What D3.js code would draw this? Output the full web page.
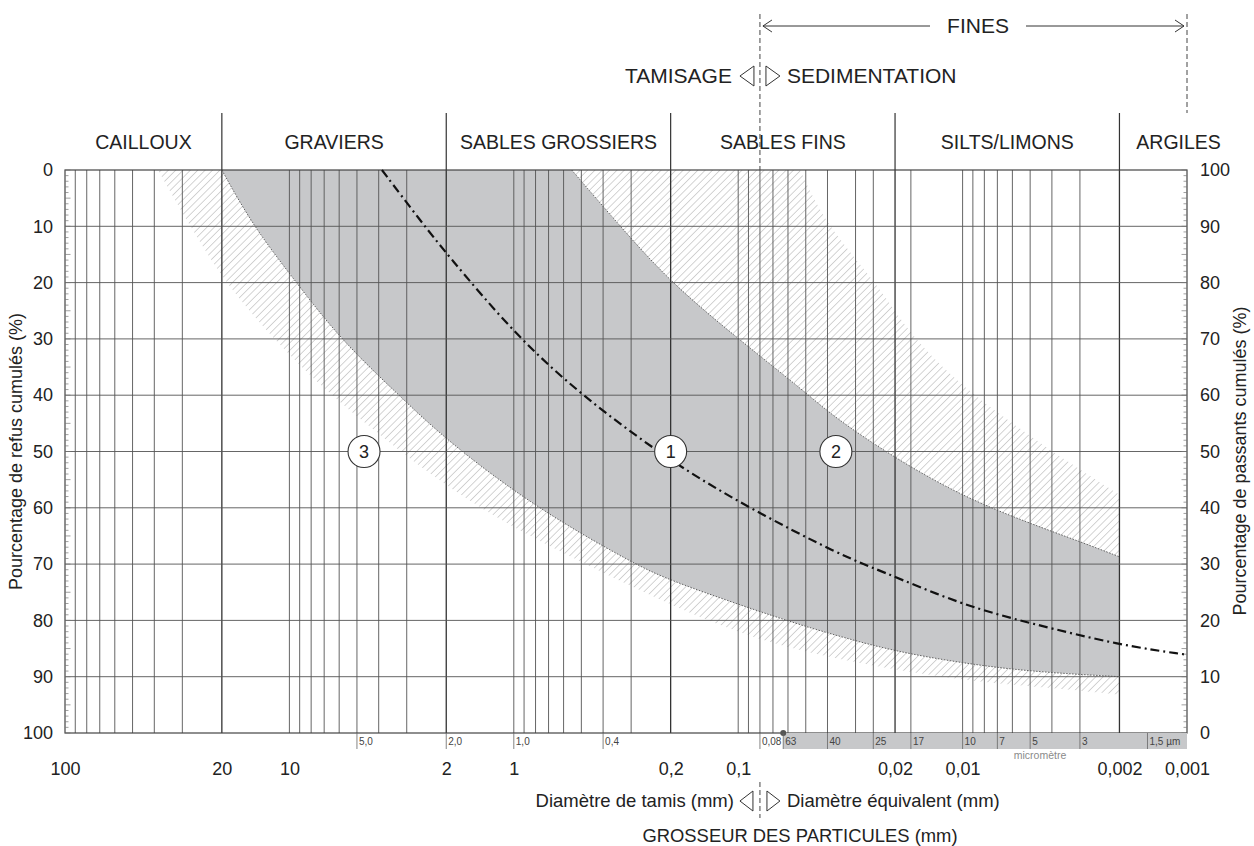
<!DOCTYPE html>
<html>
<head>
<meta charset="utf-8">
<script src="https://cdn.jsdelivr.net/npm/d3@7"></script>
<style>
  body { margin: 0; background: #fff; }
  svg { font-family: "Liberation Sans", Arial, sans-serif; }
</style>
</head>
<body>
<script>
// zones across the top, and the sizes (mm) that separate them
var zoneNames = ["CAILLOUX", "GRAVIERS", "SABLES GROSSIERS", "SABLES FINS", "SILTS/LIMONS", "ARGILES"];
var zoneBounds = [20, 2, 0.2, 0.02, 0.002];
var zoneLabelAt = [44.7, 6.32, 0.632, 0.0632, 0.00632, 0.00109];

// tick labels
var mainTicks = [100, 20, 10, 2, 1, 0.2, 0.1, 0.02, 0.01, 0.002, 0.001];
var sieveTicks = [5, 2, 1, 0.4, 0.08];
var sieveLabels = ["5,0", "2,0", "1,0", "0,4", "0,08"];
var micronTicks = [63, 40, 25, 17, 10, 7, 5, 3, 1.5];
var micronLabels = ["63", "40", "25", "17", "10", "7", "5", "3", "1,5 µm"];
var extraGrid = [0.025, 0.017];
var pctTicks = [0, 10, 20, 30, 40, 50, 60, 70, 80, 90, 100];

// curves : [diametre (mm), refus cumules (%)]
var coarseLimit = [[20, 0], [14.5, 10], [9.3, 20], [5.95, 30], [3.25, 40], [2, 48], [0.8, 60],
  [0.29, 70], [0.2, 73], [0.062, 80], [0.035, 82.9], [0.02, 85.5], [0.01, 87.6], [0.005, 89.1], [0.002, 90]];
var fineLimit = [[0.552, 0], [0.336, 10], [0.2, 20], [0.1, 30], [0.05, 39.5], [0.0377, 43.8],
  [0.02, 51.2], [0.01, 58], [0.005, 62.8], [0.003, 66], [0.002, 68.7]];
var medianCurve = [[3.87, 0], [2.62, 8.9], [2, 14.8], [0.97, 29.6], [0.49, 40.3], [0.2, 51.8],
  [0.09, 60], [0.035, 68.4], [0.0238, 71], [0.01, 77.3], [0.005, 80.5], [0.002, 84.4], [0.001, 86.1]];
var hatchCoarse = [[38.5, 0], [27.7, 10], [19.4, 20], [11.8, 30], [6.59, 40], [3.67, 48], [2.62, 52.7],
  [1.32, 61], [0.562, 68.7], [0.24, 75.8], [0.1016, 82.3], [0.0432, 86.4], [0.011, 90.6], [0.0039, 92], [0.002, 93.2]];
var hatchFine = [[0.053, 0], [0.0403, 10], [0.0241, 20], [0.0168, 30], [0.009, 40], [0.0057, 45.6],
  [0.0041, 49.7], [0.002, 57.7]];
var zoneMarks = [["3", 4.65, 50], ["1", 0.2, 50], ["2", 0.0367, 50]];

var margin = {top: 170, right: 67, bottom: 113, left: 65},
    width = 1254 - margin.left - margin.right,
    height = 846 - margin.top - margin.bottom;

var x = d3.scaleLog().domain([100, 0.001]).range([0, width]);
var y = d3.scaleLinear().domain([0, 100]).range([0, height]);
var yRight = d3.scaleLinear().domain([100, 0]).range([0, height]);

var fr = function(v) { return String(v).replace(".", ","); };

var svg = d3.select("body").append("svg")
    .attr("width", 1254)
    .attr("height", 846);

var defs = svg.append("defs");
defs.append("pattern")
    .attr("id", "hatch")
    .attr("patternUnits", "userSpaceOnUse")
    .attr("width", 5.2).attr("height", 5.2)
    .attr("patternTransform", "rotate(45)")
  .append("line")
    .attr("x1", 0).attr("y1", 0).attr("x2", 0).attr("y2", 5.2)
    .attr("stroke", "#a0a0a0").attr("stroke-width", 0.9);
defs.append("clipPath").attr("id", "plot")
  .append("rect").attr("width", width).attr("height", height);

var g = svg.append("g")
    .attr("transform", "translate(" + margin.left + "," + margin.top + ")");

var line = d3.line()
    .x(function(d) { return x(d[0]); })
    .y(function(d) { return y(d[1]); })
    .curve(d3.curveBasis);

// closed shape between two edges
function band(a, b) {
  return line(a) + line(b.slice().reverse()).replace(/^M/, "L") + "Z";
}

var areas = g.append("g").attr("clip-path", "url(#plot)");
areas.append("path").attr("d", band(hatchCoarse, coarseLimit)).attr("fill", "url(#hatch)");
areas.append("path").attr("d", band(fineLimit, hatchFine)).attr("fill", "url(#hatch)");
areas.append("path").attr("d", band(coarseLimit, fineLimit)).attr("fill", "#c7c8ca");

// dotted limits of zone 1
[coarseLimit, fineLimit].forEach(function(c) {
  areas.append("path").attr("d", line(c))
      .attr("fill", "none").attr("stroke", "#555")
      .attr("stroke-width", 0.9).attr("stroke-dasharray", "1.5,1.5");
});

// grid
var gridX = x.ticks().concat(extraGrid).filter(function(v) { return v < 100 && v > 0.001; });
g.append("g").selectAll("line")
    .data(gridX)
  .enter().append("line")
    .attr("x1", function(d) { return x(d); })
    .attr("x2", function(d) { return x(d); })
    .attr("y1", 0).attr("y2", height)
    .attr("stroke", function(d) { return zoneBounds.indexOf(d) >= 0 ? "#333" : "#555"; })
    .attr("stroke-width", function(d) { return zoneBounds.indexOf(d) >= 0 ? 1.3 : 0.9; });

g.append("g").selectAll("line")
    .data(pctTicks.slice(1, -1))
  .enter().append("line")
    .attr("x1", 0).attr("x2", width)
    .attr("y1", function(d) { return y(d); })
    .attr("y2", function(d) { return y(d); })
    .attr("stroke", "#555").attr("stroke-width", 0.9);

g.append("rect")
    .attr("width", width).attr("height", height)
    .attr("fill", "none").attr("stroke", "#444").attr("stroke-width", 1.2);

// minor ticks every 1 %
var minor = d3.range(0, 101);
g.append("g").selectAll("line").data(minor).enter().append("line")
    .attr("x1", 0).attr("x2", function(d) { return d % 5 ? 3.5 : 5.5; })
    .attr("y1", function(d) { return y(d); }).attr("y2", function(d) { return y(d); })
    .attr("stroke", "#777").attr("stroke-width", 0.7);
g.append("g").selectAll("line").data(minor).enter().append("line")
    .attr("x1", width).attr("x2", function(d) { return width - (d % 5 ? 3.5 : 5.5); })
    .attr("y1", function(d) { return y(d); }).attr("y2", function(d) { return y(d); })
    .attr("stroke", "#777").attr("stroke-width", 0.7);

// median curve
g.append("path")
    .attr("d", line(medianCurve))
    .attr("fill", "none").attr("stroke", "#111")
    .attr("stroke-width", 2.2).attr("stroke-dasharray", "9,4,2,4");

// circled zone numbers
var marks = g.selectAll(".mark").data(zoneMarks).enter().append("g")
    .attr("transform", function(d) { return "translate(" + x(d[1]) + "," + y(d[2]) + ")"; });
marks.append("circle").attr("r", 16).attr("fill", "#fff").attr("stroke", "#333").attr("stroke-width", 1.1);
marks.append("text").attr("text-anchor", "middle").attr("dy", "0.36em")
    .style("font-size", "18px").attr("fill", "#222").text(function(d) { return d[0]; });

// axes
var leftAxis = g.append("g")
    .call(d3.axisLeft(y).tickValues(pctTicks).tickSize(0).tickPadding(12));
var rightAxis = g.append("g")
    .attr("transform", "translate(" + width + ",0)")
    .call(d3.axisRight(yRight).tickValues(pctTicks).tickSize(0).tickPadding(13));
var bottomAxis = g.append("g")
    .attr("transform", "translate(0," + height + ")")
    .call(d3.axisBottom(x).tickValues(mainTicks).tickFormat(fr).tickSize(0).tickPadding(29));
[leftAxis, rightAxis, bottomAxis].forEach(function(a) {
  a.select(".domain").remove();
  a.selectAll("text").style("font-size", "18px").attr("fill", "#222");
});

// micrometre strip under the plot
g.append("rect")
    .attr("x", x(0.063)).attr("y", height)
    .attr("width", width - x(0.063)).attr("height", 16)
    .attr("fill", "#c7c8ca");
g.append("circle").attr("cx", x(0.063)).attr("cy", height).attr("r", 3)
    .attr("fill", "#555");

function smallTicks(vals, labels) {
  var t = g.append("g").selectAll("g").data(vals).enter().append("g")
      .attr("transform", function(d) { return "translate(" + x(d) + "," + height + ")"; });
  t.append("line").attr("y1", 0).attr("y2", 16).attr("stroke", "#666").attr("stroke-width", 0.8);
  t.append("text").attr("x", 2).attr("y", 12)
      .style("font-size", "10px").attr("fill", "#444")
      .text(function(d, i) { return labels[i]; });
}
smallTicks(sieveTicks, sieveLabels);
smallTicks(micronTicks.map(function(v) { return v / 1000; }), micronLabels);

g.append("text")
    .attr("x", x(0.00452)).attr("y", height + 26)
    .attr("text-anchor", "middle")
    .style("font-size", "10.5px").attr("fill", "#8a8a8a")
    .text("micromètre");

// axis titles
svg.append("text")
    .attr("transform", "translate(22," + (margin.top + height / 2) + ") rotate(-90)")
    .attr("text-anchor", "middle").style("font-size", "18px").attr("fill", "#222")
    .text("Pourcentage de refus cumulés (%)");
svg.append("text")
    .attr("transform", "translate(1246,461) rotate(-90)")
    .attr("text-anchor", "middle").style("font-size", "18px").attr("fill", "#222")
    .text("Pourcentage de passants cumulés (%)");

// zone header
g.append("g").selectAll("line").data(zoneBounds).enter().append("line")
    .attr("x1", function(d) { return x(d); }).attr("x2", function(d) { return x(d); })
    .attr("y1", -57).attr("y2", 0)
    .attr("stroke", "#333").attr("stroke-width", 1.2);
g.append("g").selectAll("text").data(zoneNames).enter().append("text")
    .attr("x", function(d, i) { return x(zoneLabelAt[i]); })
    .attr("y", -21)
    .attr("text-anchor", "middle")
    .style("font-size", "19.5px").attr("fill", "#222")
    .text(function(d) { return d; });

// sieving / sedimentation split at 0,08 mm
var xs = margin.left + x(0.08), xe = margin.left + x(0.001);
function dashed(xp, y1, y2) {
  svg.append("line").attr("x1", xp).attr("x2", xp).attr("y1", y1).attr("y2", y2)
      .attr("stroke", "#444").attr("stroke-width", 1).attr("stroke-dasharray", "5,3");
}
dashed(xs, 14, margin.top);
dashed(xe, 14, 113);
dashed(xs, 782, 818);

function triangles(cy, gap, w, h) {
  svg.append("path")
      .attr("d", "M" + (xs - gap) + "," + (cy - h) + "L" + (xs - gap - w) + "," + cy + "L" + (xs - gap) + "," + (cy + h) + "Z")
      .attr("fill", "none").attr("stroke", "#333").attr("stroke-width", 1);
  svg.append("path")
      .attr("d", "M" + (xs + gap) + "," + (cy - h) + "L" + (xs + gap + w) + "," + cy + "L" + (xs + gap) + "," + (cy + h) + "Z")
      .attr("fill", "none").attr("stroke", "#333").attr("stroke-width", 1);
}
triangles(76, 6, 14, 10);
triangles(801, 7, 13, 10);

function label(txt, xp, yp, anchor, size) {
  svg.append("text").attr("x", xp).attr("y", yp)
      .attr("text-anchor", anchor).style("font-size", size + "px").attr("fill", "#222")
      .text(txt);
}
label("TAMISAGE", xs - 28, 83, "end", 21);
label("SEDIMENTATION", xs + 27, 83, "start", 21);
label("Diamètre de tamis (mm)", xs - 26, 807, "end", 18.5);
label("Diamètre équivalent (mm)", xs + 27, 807, "start", 18.5);
label("GROSSEUR DES PARTICULES (mm)", 800, 842, "middle", 18.4);
label("FINES", 978, 33, "middle", 21);

// FINES arrows
svg.append("line").attr("x1", xs + 3).attr("x2", 930).attr("y1", 26).attr("y2", 26)
    .attr("stroke", "#333").attr("stroke-width", 1);
svg.append("line").attr("x1", 1026).attr("x2", xe - 3).attr("y1", 26).attr("y2", 26)
    .attr("stroke", "#333").attr("stroke-width", 1);
svg.append("path")
    .attr("d", "M" + (xs + 12) + ",20L" + (xs + 3) + ",26L" + (xs + 12) + ",32")
    .attr("fill", "none").attr("stroke", "#333").attr("stroke-width", 1);
svg.append("path")
    .attr("d", "M" + (xe - 12) + ",20L" + (xe - 3) + ",26L" + (xe - 12) + ",32")
    .attr("fill", "none").attr("stroke", "#333").attr("stroke-width", 1);
</script>
</body>
</html>
